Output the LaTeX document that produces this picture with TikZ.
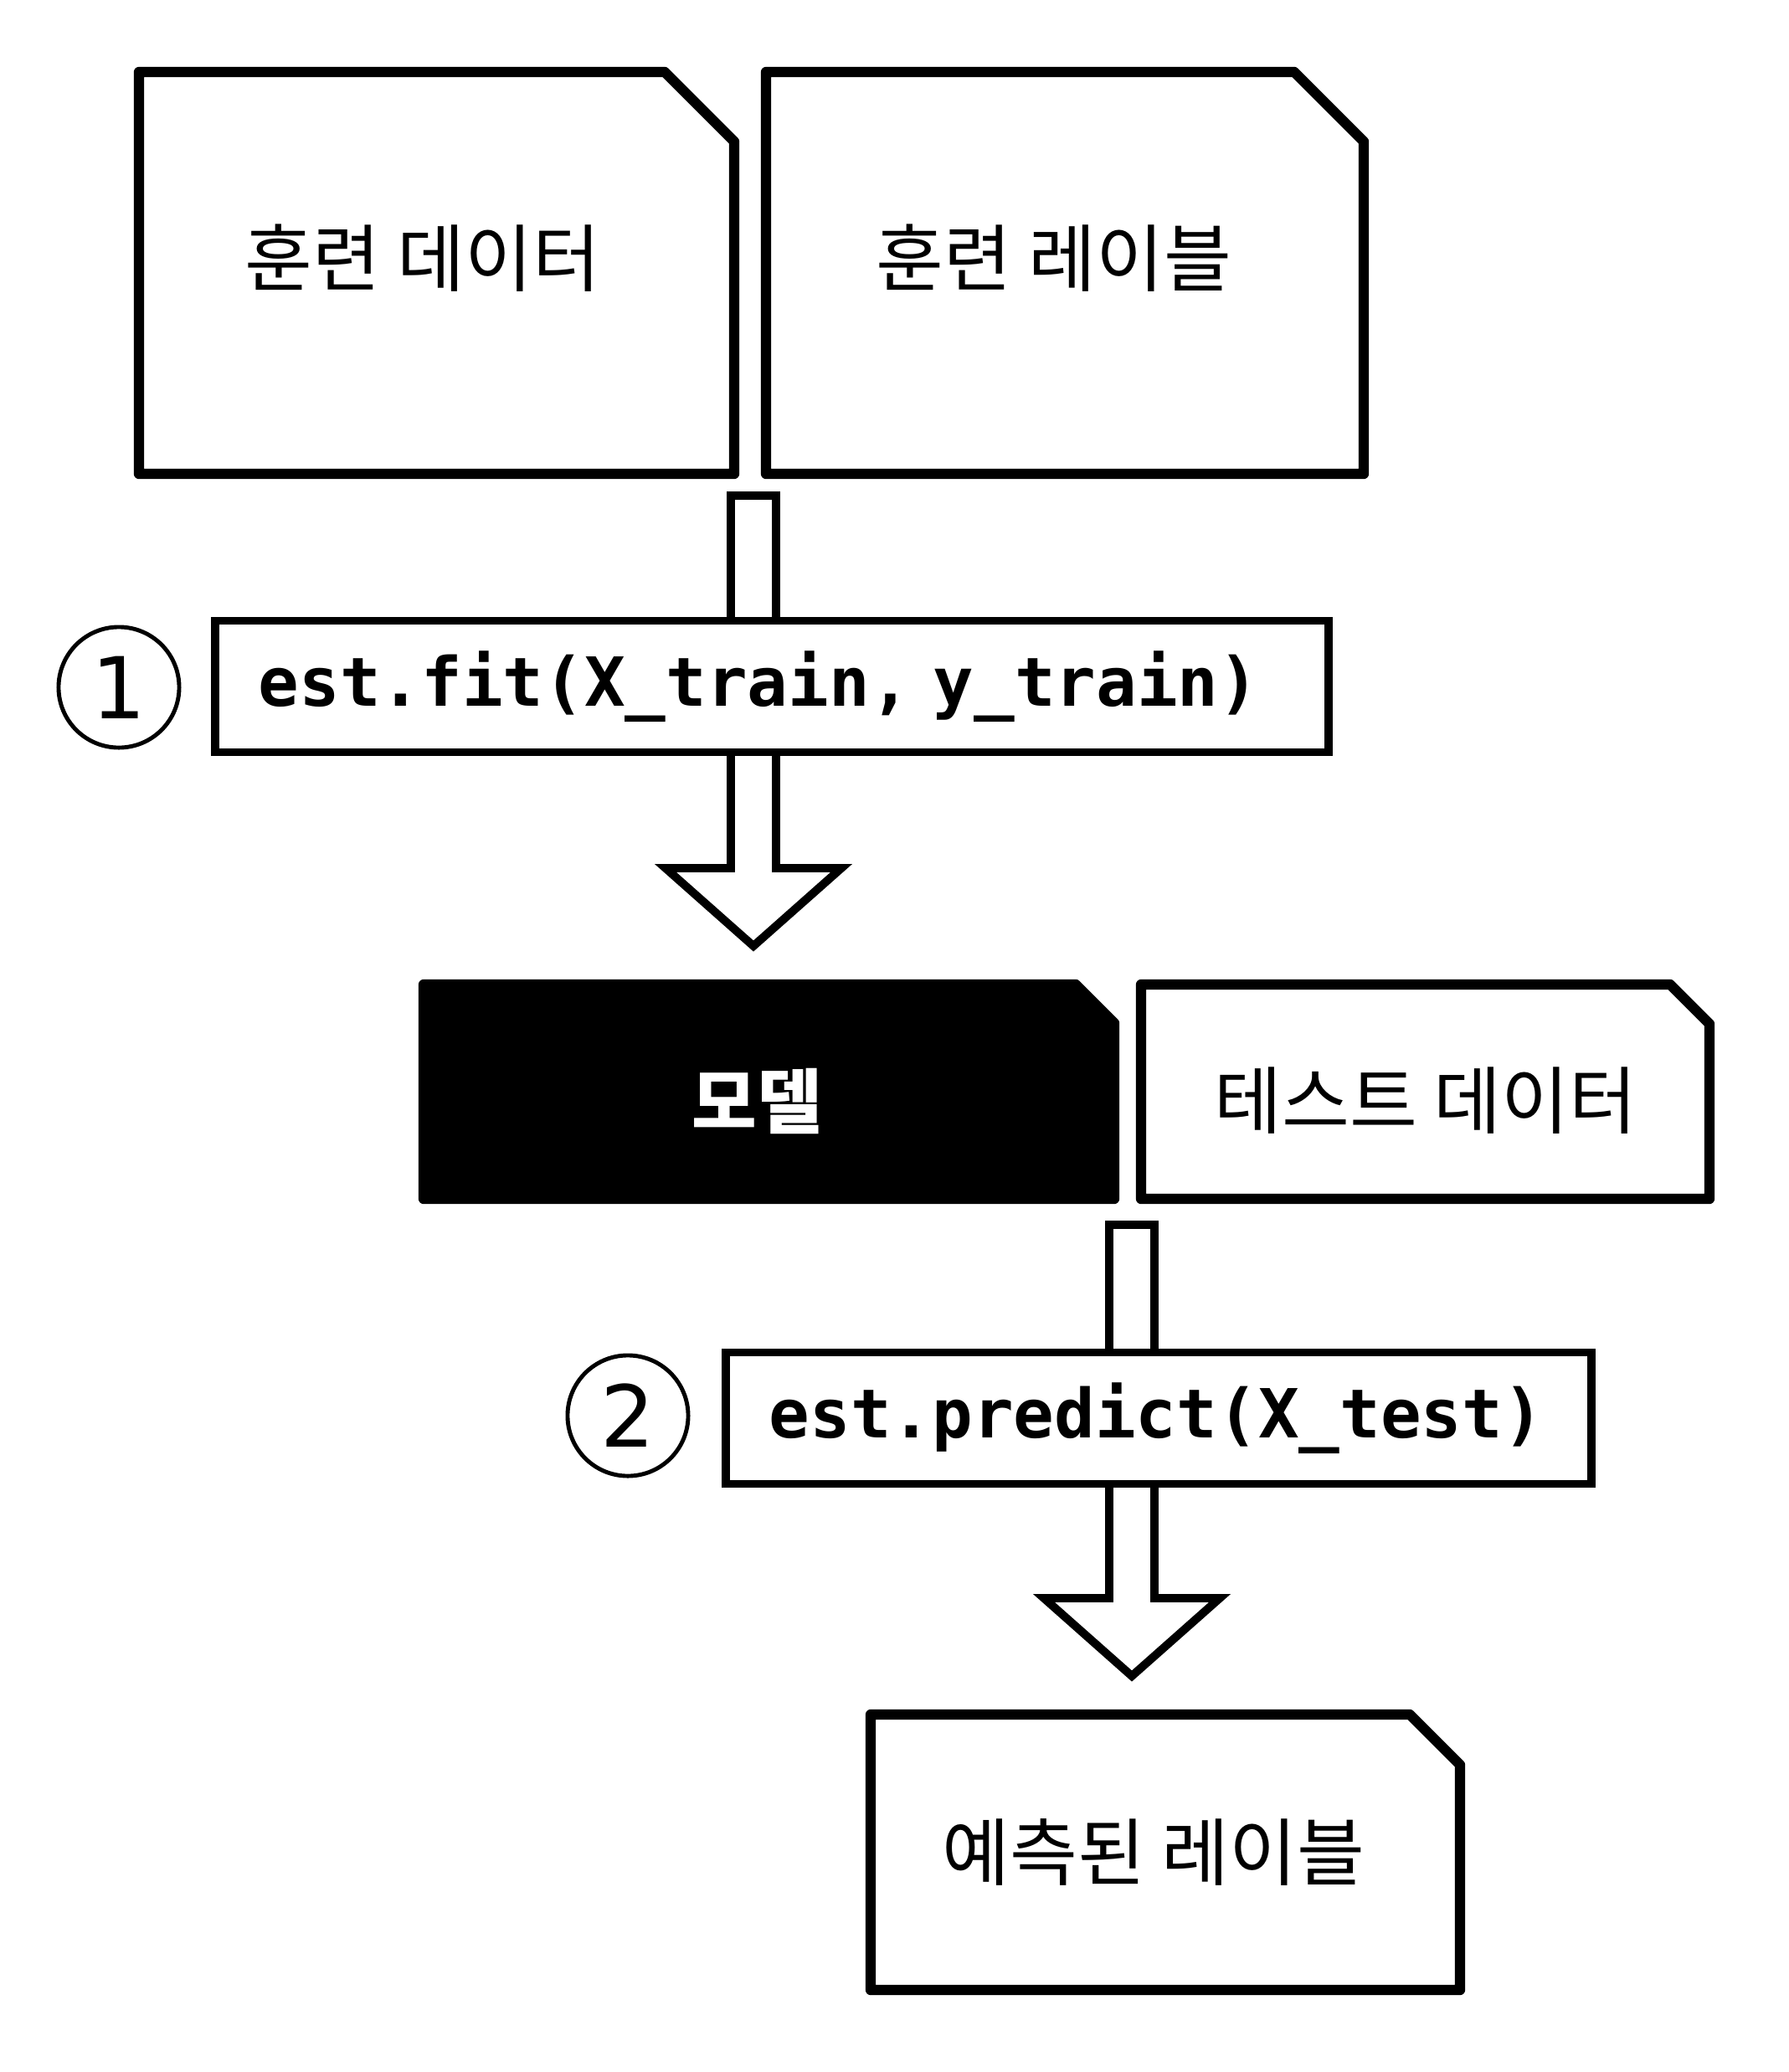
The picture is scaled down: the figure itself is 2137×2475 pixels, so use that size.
\documentclass[tikz,border=0pt]{standalone}
\usepackage{fontspec}
\usetikzlibrary{calc}
\newfontfamily\krfont{Noto Sans CJK KR}
\newfontfamily\codefont{DejaVu Sans Mono}
\newfontfamily\numfont{DejaVu Sans}

% sheet with the top right corner cut off: [options]{top left}{bottom right}{cut}
\newcommand{\docshape}[4][]{%
  \draw[docline,#1] let \p1=#2, \p2=#3 in
    (\x1,\y1) -- (\x2-#4,\y1) -- (\x2,\y1-#4) -- (\x2,\y2) -- (\x1,\y2) -- cycle;}

% hollow arrow pointing down: {start}{tip}
\newcommand{\blockarrow}[2]{%
  \draw[arrowline] ($(#1)+(-27,0)$) -- ($(#1)+(27,0)$) -- ($(#2)+(27,-93)$)
    -- ($(#2)+(105,-93)$) -- (#2) -- ($(#2)+(-105,-93)$) -- ($(#2)+(-27,-93)$) -- cycle;}

\begin{document}
\begin{tikzpicture}[x=0.01cm, y=-0.01cm,
  docline/.style={line width=3.5pt, line join=round},
  arrowline/.style={draw, fill=white, line width=2.8pt},
  codebox/.style={draw, fill=white, line width=2.8pt, inner xsep=0.52cm, align=left,
    minimum height=1.57cm, font=\codefont\bfseries\fontsize{23}{23}\selectfont},
  doclabel/.style={font=\krfont\fontsize{25}{25}\selectfont},
  stepnum/.style={circle, draw, line width=1.4pt, minimum size=1.44cm, inner sep=0pt,
    font=\numfont\fontsize{29}{29}\selectfont}]
\useasboundingbox (0,0) rectangle (2137,2475);

% Training data and labels
\docshape{(166,86)}{(877,566)}{0.83cm}
\docshape{(915,86)}{(1629,566)}{0.83cm}
\node[doclabel] (trainx) at (505,308) {훈련 데이터};
\node[doclabel] (trainy) at (1259,308) {훈련 레이블};

% Step 1: fit
\coordinate (fitin) at (900,592);
\coordinate (fitout) at (900,1130);
\blockarrow{fitin}{fitout}
\node[codebox, text width=12.26cm] (fit) at (922,820) {est.fit(X\_train, y\_train)};
\node[stepnum] (one) at (142,821) {1};

% Model and test data
\docshape[fill=black]{(506,1176)}{(1331,1432)}{0.46cm}
\docshape{(1363,1176)}{(2042,1432)}{0.47cm}
\node[doclabel, text=white, font=\krfont\bfseries\fontsize{24}{24}\selectfont] (model) at (904,1315) {모델};
\node[doclabel] (testx) at (1703,1315) {테스트 데이터};

% Step 2: predict
\coordinate (predin) at (1352,1463);
\coordinate (predout) at (1352,2002);
\blockarrow{predin}{predout}
\node[codebox, text width=9.3cm] (predict) at (1384,1694) {est.predict(X\_test)};
\node[stepnum] (two) at (750,1691) {2};

% Predicted labels
\docshape{(1040,2048)}{(1744,2377)}{0.6cm}
\node[doclabel] (predy) at (1378,2213) {예측된 레이블};
\end{tikzpicture}
\end{document}
